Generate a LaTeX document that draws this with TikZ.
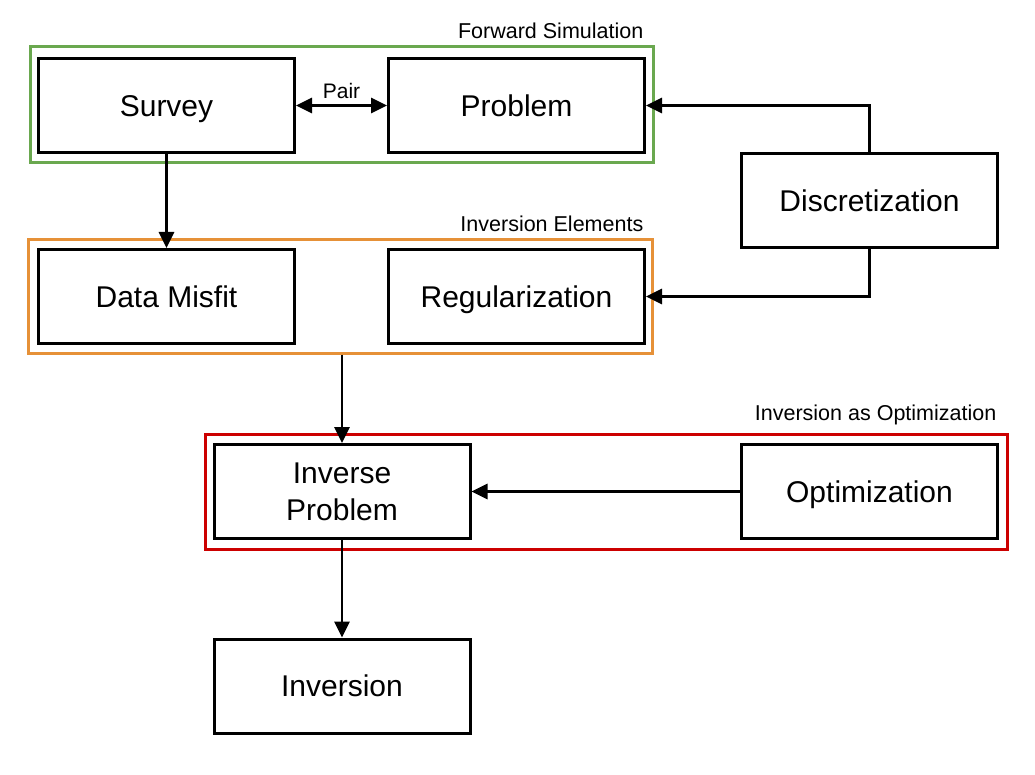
\documentclass[tikz,border=0pt]{standalone}
\usepackage{fontspec}
\setmainfont{Liberation Sans}
\usetikzlibrary{arrows.meta}
\definecolor{fgreen}{HTML}{6AA84F}
\definecolor{forange}{HTML}{E69138}
\definecolor{fred}{HTML}{CC0000}
\begin{document}
\begin{tikzpicture}[x=1pt,y=-1pt,
  box/.style={draw=black, line width=3pt, rectangle, minimum width=256pt, minimum height=94pt, align=center, font=\fontsize{30}{35}\selectfont, inner sep=0pt, text height=21.5pt, text depth=0pt},
  grp/.style={draw=#1, line width=3pt, rectangle, inner sep=0pt},
  grplabel/.style={font=\fontsize{21.5}{24}\selectfont, inner sep=0pt, anchor=south east},
  arr/.style={draw=black, line width=2.8pt, -{Triangle[length=16pt,width=15pt]}},
  darr/.style={draw=black, line width=2.8pt, {Triangle[length=16pt,width=15pt]}-{Triangle[length=16pt,width=15pt]}}]
\path[use as bounding box] (0,0) rectangle (1035,775);
% group frames
\node[grp=fgreen, minimum width=623pt, minimum height=116pt] (fwd) at (341.5,105) {};
\node[grp=forange, minimum width=624pt, minimum height=113pt] (elem) at (340,296.5) {};
\node[grp=fred, minimum width=802pt, minimum height=115pt] (opt) at (606,491.5) {};
\node[grplabel] (fwdl) at ([xshift=-11pt,yshift=7pt]fwd.north east) {Forward Simulation};
\node[grplabel] (eleml) at ([xshift=-10pt,yshift=7pt]elem.north east) {Inversion Elements};
\node[grplabel] (optl) at ([xshift=-12pt,yshift=7pt]opt.north east) {Inversion as Optimization};
% boxes
\node[box] (survey) at (166.5,105.5) {Survey};
\node[box] (problem) at (516.5,105.5) {Problem};
\node[box] (disc) at (869.5,200.5) {Discretization};
\node[box] (misfit) at (166.5,296.5) {Data Misfit};
\node[box] (reg) at (516.5,296.5) {Regularization};
\node[box, text height=, text depth=] (invprob) at (342,491.5) {Inverse\\[2pt]Problem};
\node[box] (optim) at (869.5,491.5) {Optimization};
\node[box] (inversion) at (342,686) {Inversion};
% connectors
\draw[darr] (survey.east) -- node[above=5pt, font=\fontsize{21}{24}\selectfont, inner sep=0pt] (pairl) {Pair} (problem.west);
\draw[arr] (survey.south) -- (misfit.north);
\draw[arr] (disc.north) |- (problem.east);
\draw[arr] (disc.south) |- (reg.east);
\draw[arr] (invprob.north |- elem.south) -- (invprob.north);
\draw[arr] (optim.west) -- (invprob.east);
\draw[arr] (invprob.south) -- (inversion.north);
\end{tikzpicture}
\end{document}
